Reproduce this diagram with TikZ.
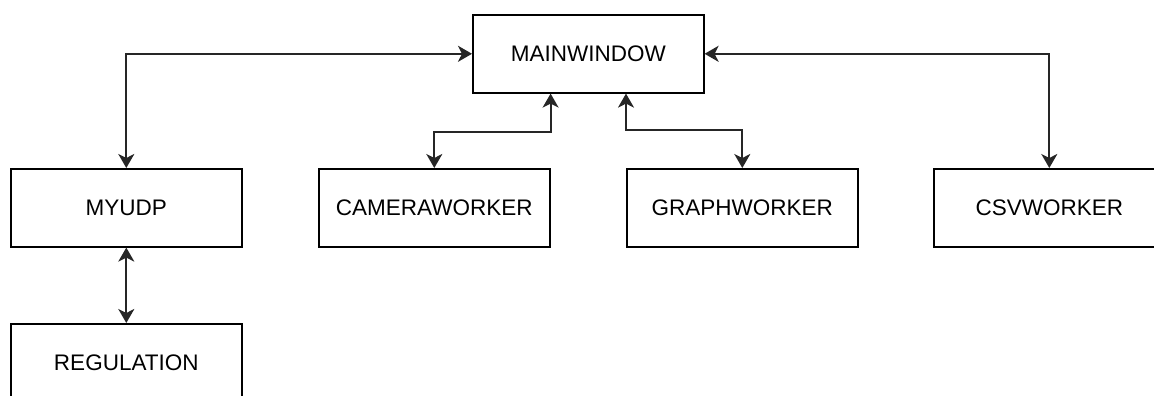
\documentclass[tikz,border=0pt]{standalone}
\usepackage{fontspec}
\setmainfont{Liberation Sans}
\usetikzlibrary{arrows.meta}
\begin{document}
\begin{tikzpicture}[x=1pt,y=-1pt,
  box/.style={draw=black,line width=1.6pt,fill=white,minimum width=231pt,minimum height=78pt,inner sep=0pt,anchor=north west,font=\fontsize{22.5}{27}\selectfont},
  conn/.style={draw=black!85,line width=2pt,{Stealth[width=16pt,length=14pt,inset=4pt]}-{Stealth[width=16pt,length=14pt,inset=4pt]}}]
\useasboundingbox (0,0) rectangle (1154,396);
\clip (0,0) rectangle (1154,396);
\node[box] (main) at (472,14) {MAINWINDOW};
\node[box] (myudp) at (10,168) {MYUDP};
\node[box] (cam) at (318,168) {CAMERAWORKER};
\node[box] (graph) at (626,168) {GRAPHWORKER};
\node[box] (csv) at (933,168) {CSVWORKER};
\node[box] (reg) at (10,323) {REGULATION};
\draw[conn] (main.west) -| (myudp.north);
\draw[conn] (main.east) -| (csv.north);
\draw[conn] (main.south -| cam.east) -- ++(0,38) -| (cam.north);
\draw[conn] (main.south -| graph.west) -- ++(0,36) -| (graph.north);
\draw[conn] (myudp.south) -- (reg.north);
\end{tikzpicture}
\end{document}
